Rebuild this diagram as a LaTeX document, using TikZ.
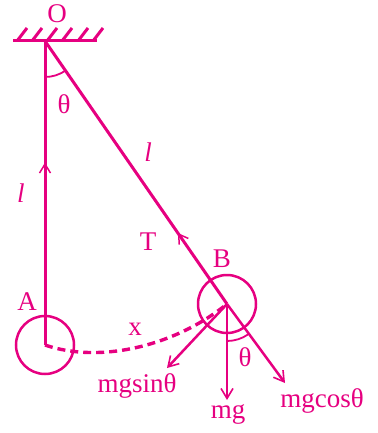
\documentclass[tikz,border=0pt]{standalone}
\usepackage{fontspec}
\setmainfont{Liberation Serif}
\usetikzlibrary{arrows.meta,decorations.markings}
\definecolor{pendcolor}{RGB}{230,0,128}

\begin{document}
\begin{tikzpicture}[
    x=1pt, y=-1pt,
    line width=3pt, color=pendcolor,
    ball/.style={circle, draw, line width=2.5pt, minimum size=58pt, inner sep=0pt},
    lbl/.style={font=\fontsize{27}{31}\selectfont, text=pendcolor, inner sep=0pt},
    force/.style={line width=2.5pt, -{Straight Barb[length=10pt,width=12pt,line width=1.6pt]}},
    tension/.style={postaction={decorate}, decoration={markings,
        mark=at position #1 with {\arrowreversed{Straight Barb[length=9pt,width=11pt,line width=1.5pt]}}}}
]
\useasboundingbox (0,0) rectangle (377,433);

% Support
\coordinate (O) at (45,41);
\draw (13,41) -- (97,41);
\foreach \hx in {17,32,47,62,78,93}
    \draw (\hx,41) -- ++(10,-13);
\node[lbl] (lblO) at (57,14) {O};

% Bobs
\node[ball] (A) at (45,345) {};
\node[ball] (B) at (227,304) {};
\coordinate (C) at (285,383);

% Strings
\draw[tension=0.40] (O) -- (A.center);
\draw[tension=0.73] (O) -- (B.center);
\node[lbl] (lA) at (21,193) {\textit{l}};
\node[lbl] (lB) at (148,152) {\textit{l}};
\node[lbl] (lblT) at (148,242) {T};
\node[lbl] (lblA) at (27,302) {A};
\node[lbl] (lblB) at (222,259) {B};

% Angle at O
\draw[line width=1.8pt] (O) ++(90:36) arc (90:55:36);
\node[lbl] (thO) at (64,104) {θ};

% Path of the bob
\draw[line width=3.4pt, dash pattern=on 8pt off 5pt]
    (A.center) .. controls (100,364) and (175,346) .. (B.center);
\node[lbl] (lblx) at (135,329) {x};

% Forces
\coordinate (G) at (227,400);
\coordinate (S) at (167,368);
\draw[force] (B.center) -- (G);
\draw[force] (B.center) -- (S);
\draw[force] (B.center) -- (C);
\node[lbl] (lblmg) at (228,414) {mg};
\node[lbl] (lblsin) at (137,386) {mgsinθ};
\node[lbl] (lblcos) at (322,401) {mgcosθ};

% Angle at B
\draw[line width=1.8pt] (B.center) ++(90:37) arc (90:55:37);
\node[lbl] (thB) at (245,357) {θ};

\end{tikzpicture}
\end{document}
